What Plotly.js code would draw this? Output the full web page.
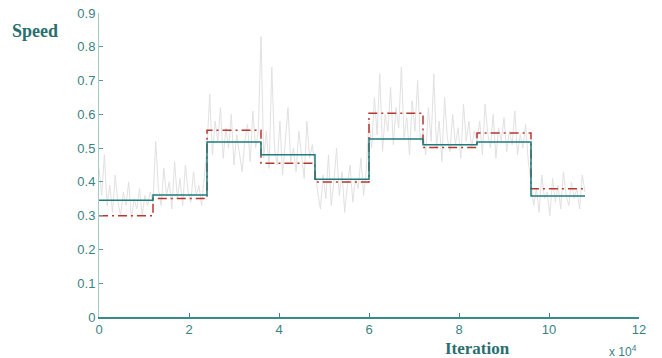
<!DOCTYPE html>
<html>
<head>
<meta charset="utf-8">
<script src="https://cdn.plot.ly/plotly-3.0.1.min.js"></script>
<style>html,body{margin:0;padding:0;background:#fff;}#chart{width:662px;height:358px;}</style>
</head>
<body>
<div id="chart"></div>
<script>
// Segment boundaries (x 10^4 iterations)
const segmentEdges = [0, 1.2, 2.4, 3.6, 4.8, 6.0, 7.2, 8.4, 9.6, 10.8];
// Solid step series (estimated speed)
const solidSpeed = [0.346, 0.361, 0.518, 0.480, 0.408, 0.527, 0.510, 0.518, 0.358];
// Dash-dot step series (true speed)
const dashSpeed = [0.300, 0.351, 0.553, 0.455, 0.400, 0.603, 0.502, 0.545, 0.380];
// Noisy measured speed, sampled every 0.06 x 10^4 iterations
const noiseStep = 0.06;
const noiseSpeed = [
  0.44,0.36,0.48,0.33,0.39,0.31,0.42,0.34,0.30,0.37,0.33,0.40,0.29,0.35,0.32,0.38,0.30,0.36,0.33,0.37,
  0.34,0.52,0.38,0.33,0.44,0.36,0.40,0.32,0.46,0.35,0.41,0.33,0.45,0.37,0.34,0.43,0.36,0.39,0.33,0.41,
  0.50,0.66,0.48,0.58,0.52,0.62,0.47,0.56,0.50,0.60,0.45,0.54,0.48,0.43,0.52,0.57,0.46,0.61,0.50,0.55,
  0.83,0.47,0.55,0.44,0.74,0.50,0.45,0.58,0.42,0.52,0.62,0.46,0.50,0.43,0.55,0.48,0.41,0.58,0.47,0.51,
  0.44,0.37,0.32,0.42,0.35,0.48,0.33,0.40,0.50,0.36,0.43,0.31,0.39,0.45,0.34,0.41,0.38,0.47,0.36,0.44,
  0.58,0.50,0.65,0.54,0.72,0.49,0.60,0.55,0.68,0.51,0.62,0.56,0.74,0.53,0.59,0.48,0.64,0.55,0.70,0.52,
  0.55,0.48,0.62,0.52,0.72,0.50,0.58,0.46,0.65,0.53,0.49,0.60,0.51,0.56,0.47,0.63,0.52,0.58,0.50,0.55,
  0.52,0.58,0.48,0.63,0.54,0.50,0.60,0.47,0.56,0.52,0.59,0.49,0.55,0.51,0.61,0.48,0.54,0.50,0.57,0.46,
  0.40,0.33,0.38,0.31,0.42,0.35,0.37,0.30,0.41,0.34,0.39,0.32,0.43,0.36,0.33,0.40,0.35,0.38,0.32,0.42,0.37
];
const xTicks = [0, 2, 4, 6, 8, 10, 12];
const yTicks = [0, 0.1, 0.2, 0.3, 0.4, 0.5, 0.6, 0.7, 0.8, 0.9];

const noiseX = noiseSpeed.map((_, i) => +(i * noiseStep).toFixed(3));
const stepY = arr => arr.concat([arr[arr.length - 1]]);

const traces = [
  {x: noiseX, y: noiseSpeed, type: 'scatter', mode: 'lines',
   line: {color: '#e1e1e1', width: 1}, hoverinfo: 'skip'},
  {x: segmentEdges, y: stepY(dashSpeed), type: 'scatter', mode: 'lines',
   line: {color: '#b8372f', width: 1.5, shape: 'hv', dash: '9px,4px,2px,4px'}},
  {x: segmentEdges, y: stepY(solidSpeed), type: 'scatter', mode: 'lines',
   line: {color: '#1f7c7d', width: 1.5, shape: 'hv'}}
];

const tickFont = {family: 'Liberation Sans, Arial, sans-serif', size: 13, color: '#3c8283'};
const layout = {
  width: 662, height: 358,
  margin: {l: 99, r: 23, t: 13, b: 41},
  paper_bgcolor: '#ffffff', plot_bgcolor: '#ffffff',
  showlegend: false,
  xaxis: {range: [0, 12], tickvals: xTicks, ticktext: xTicks.map(String),
          showgrid: false, zeroline: false, showline: true, linecolor: '#3a8a8a', linewidth: 1.5,
          ticks: 'inside', ticklen: 4, tickcolor: '#3a8a8a', tickfont: tickFont, fixedrange: true},
  yaxis: {range: [0, 0.9], tickvals: yTicks, ticktext: yTicks.map(v => v === 0 ? '0' : v.toFixed(1)),
          showgrid: false, zeroline: false, showline: true, linecolor: '#a9c9c9', linewidth: 1,
          ticks: 'inside', ticklen: 4, tickcolor: '#5a9a9a', tickfont: tickFont, fixedrange: true},
  annotations: [
    {text: '<b>Speed</b>', xref: 'paper', yref: 'paper', x: -0.165, y: 0.94, xanchor: 'left', yanchor: 'middle',
     showarrow: false, font: {family: 'Liberation Serif, Times New Roman, serif', size: 18, color: '#2a6e6f'}},
    {text: '<b>Iteration</b>', xref: 'paper', yref: 'paper', x: 0.70, y: -0.066, xanchor: 'center', yanchor: 'top',
     showarrow: false, font: {family: 'Liberation Serif, Times New Roman, serif', size: 17, color: '#2a6e6f'}},
    {text: 'x 10<sup>4</sup>', xref: 'paper', yref: 'paper', x: 1.0, y: -0.08, xanchor: 'right', yanchor: 'top',
     showarrow: false, font: {family: 'Liberation Sans, Arial, sans-serif', size: 12, color: '#3c8283'}}
  ]
};

Plotly.newPlot('chart', traces, layout, {displayModeBar: false, staticPlot: true});
</script>
</body>
</html>
